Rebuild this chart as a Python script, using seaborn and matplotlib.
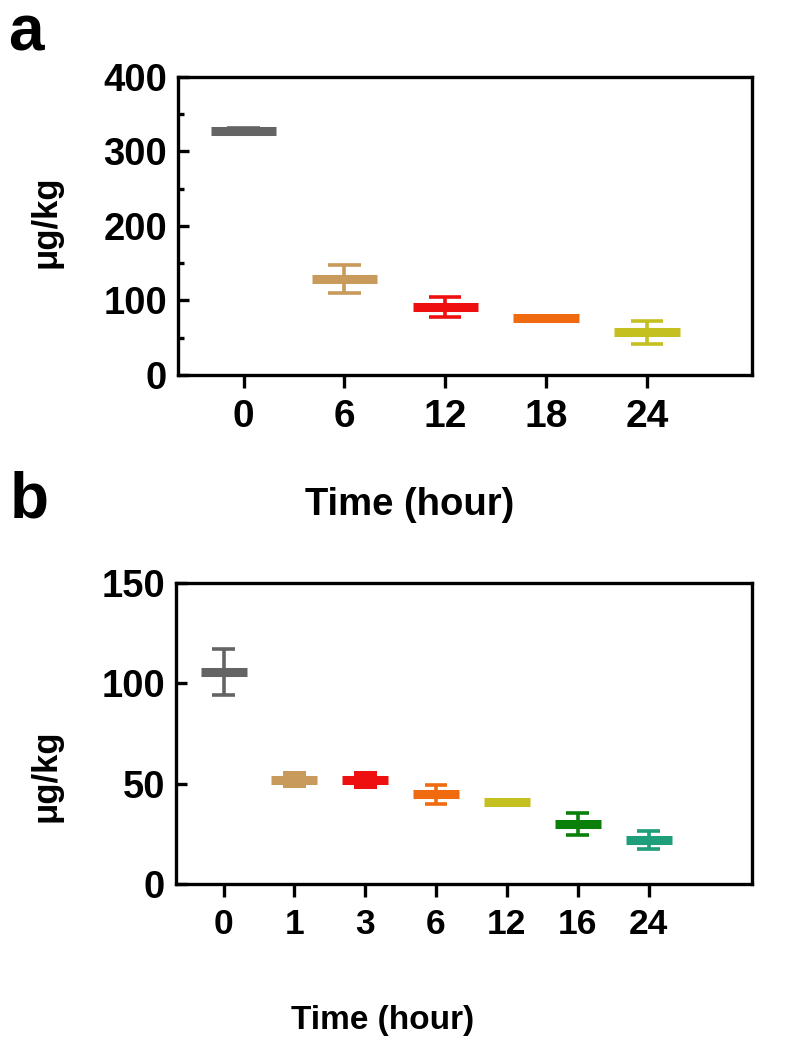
import numpy as np
import pandas as pd
import matplotlib
matplotlib.use("Agg")
import matplotlib.pyplot as plt
import seaborn as sns

# panel a
a_time = ["0", "6", "12", "18", "24"]
a_mean = [328, 129, 91, 76, 57]
a_sd = [3, 19, 13, 2, 16]
a_lo = [321, 129, 91, 76, 57]
a_hi = [331, 129, 91, 76, 57]
a_colors = ["#646464", "#c89a5c", "#ee1010", "#f06a10", "#c4c020"]

# panel b
b_time = ["0", "1", "3", "6", "12", "16", "24"]
b_mean = [105.5, 52, 52, 44.7, 41, 30, 22]
b_sd = [11.5, 2, 2, 4.7, 1, 5.6, 4.6]
b_lo = [105.5, 47.8, 47.6, 44.7, 39.5, 30, 22]
b_hi = [105.5, 56.4, 56.4, 44.7, 42.5, 30, 22]
b_colors = ["#646464", "#c89a5c", "#ee1010", "#f06a10", "#c4c020", "#0a800a", "#1f9e7c"]

sns.set_theme(style="ticks")
plt.rcParams["font.family"] = ["Liberation Sans", "DejaVu Sans"]
plt.rcParams["font.weight"] = "bold"
plt.rcParams["text.color"] = "black"
plt.rcParams["axes.labelcolor"] = "black"

fig = plt.figure(figsize=(7.86, 10.5), dpi=100)
ax_a = fig.add_axes([0.2265, 0.6429, 0.7302, 0.2838])
ax_b = fig.add_axes([0.224, 0.158, 0.7327, 0.2868])


def draw_panel(ax, times, mean, sd, lo, hi, colors, xsize, ysize, labsize):
    df = pd.DataFrame({"time": times, "mean": mean, "sd": sd, "lo": lo, "hi": hi, "color": colors})
    for i, row in df.iterrows():
        c = row["color"]
        if row["hi"] > row["lo"]:
            ax.bar(i, row["hi"] - row["lo"], bottom=row["lo"], width=0.32, color=c, linewidth=0, zorder=2)
        ax.vlines(i, row["mean"] - row["sd"], row["mean"] + row["sd"], color=c, lw=2.6, zorder=2)
        ax.hlines([row["mean"] - row["sd"], row["mean"] + row["sd"]], i - 0.16, i + 0.16, color=c, lw=2.6, zorder=2)
        ax.hlines(row["mean"], i - 0.325, i + 0.325, color=c, lw=6.5, zorder=3)
    ax.set_xticks(range(len(times)))
    ax.set_xticklabels(times)
    for s in ax.spines.values():
        s.set_linewidth(2.4)
        s.set_color("black")
        s.set_visible(True)
    ax.tick_params(axis="x", direction="out", length=9, width=2.4, pad=8, labelsize=xsize, colors="black")
    ax.tick_params(axis="y", which="major", direction="in", length=8, width=2.4, pad=8, labelsize=ysize, colors="black")
    ax.tick_params(axis="y", which="minor", direction="in", length=4.5, width=2.4, colors="black")
    ax.set_xlabel("Time (hour)", fontsize=labsize, fontweight="bold")
    ax.set_ylabel("μg/kg", fontsize=25, fontweight="bold")
    ax.grid(False)
    for lab in ax.get_xticklabels() + ax.get_yticklabels():
        lab.set_fontweight("bold")


draw_panel(ax_a, a_time, a_mean, a_sd, a_lo, a_hi, a_colors, 28, 27.5, 27.5)
ax_a.set_xlim(-0.65, 5.04)
ax_a.set_ylim(0, 400)
ax_a.set_yticks([0, 100, 200, 300, 400])
ax_a.set_yticks(np.arange(50, 400, 100), minor=True)
ax_a.xaxis.set_label_coords(0.404, -0.376)
ax_a.yaxis.set_label_coords(-0.202, 0.513)

draw_panel(ax_b, b_time, b_mean, b_sd, b_lo, b_hi, b_colors, 25.5, 27.5, 24)
ax_b.set_xlim(-0.67, 7.46)
ax_b.set_ylim(0, 150)
ax_b.set_yticks([0, 50, 100, 150])
ax_b.xaxis.set_label_coords(0.358, -0.402)
ax_b.yaxis.set_label_coords(-0.198, 0.359)

fig.text(0.010, 0.952, "a", fontsize=46, fontweight="bold", va="baseline")
fig.text(0.012, 0.507, "b", fontsize=46, fontweight="bold", va="baseline")

fig.savefig("out.png", dpi=100)
